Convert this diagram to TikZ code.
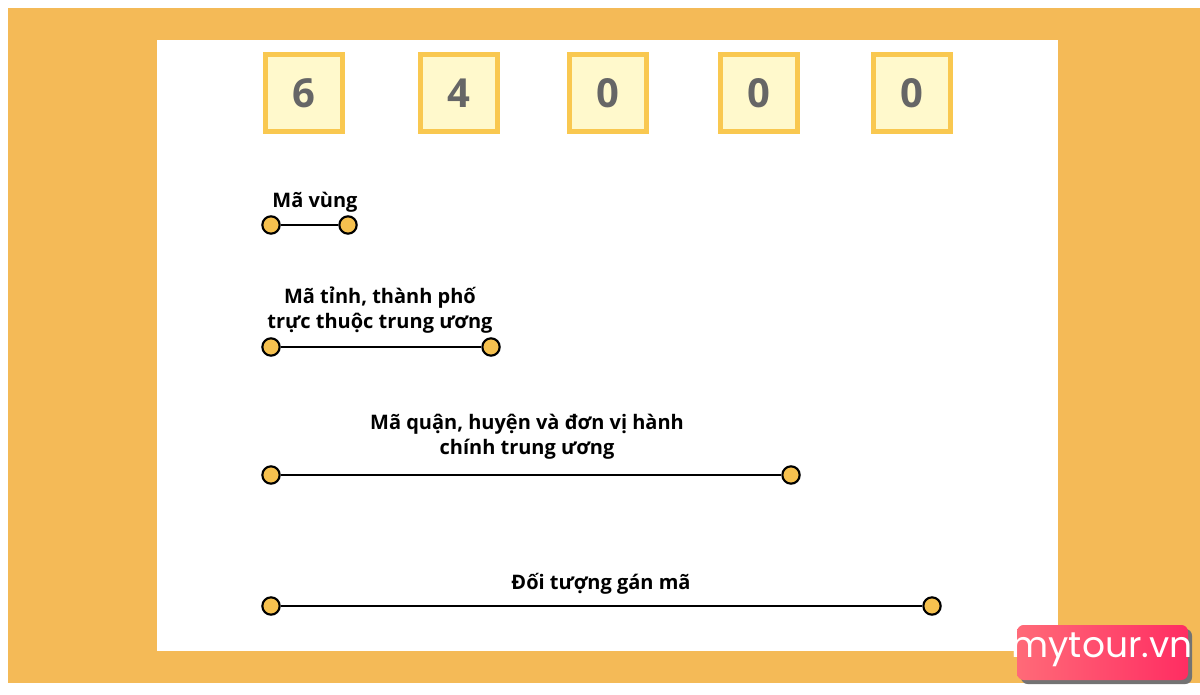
\documentclass[tikz,border=0pt]{standalone}
\usepackage{fontspec}
\setmainfont{Open Sans}
\newfontfamily\logofont{Poppins}
\usetikzlibrary{shadows}
\definecolor{bgor}{HTML}{F4BA57}
\definecolor{boxf}{HTML}{FFF9CC}
\definecolor{boxd}{HTML}{F9C850}
\definecolor{dotc}{HTML}{F6C14F}
\definecolor{pinkA}{HTML}{FF6A78}
\definecolor{pinkB}{HTML}{FF2D62}
\begin{document}
\begin{tikzpicture}[x=0.75pt,y=-0.75pt,
  digit/.style={draw=boxd,line width=4pt,fill=boxf,minimum size=58pt,inner sep=0pt,
    font=\fontsize{30}{30}\selectfont\bfseries,text=gray!80!black},
  dotn/.style={circle,draw=black,line width=1.6pt,fill=dotc,minimum size=13pt,inner sep=0pt},
  seg/.style={line width=2.2pt},
  lbl/.style={font=\fontsize{15}{19}\selectfont\bfseries,align=center}]
\useasboundingbox (0,0) rectangle (1200,695);
\fill[white] (0,0) rectangle (1200,695);
\fill[bgor] (8,8) rectangle (1200,683);
\fill[white] (157,40) rectangle (1058,651);
\node[digit] (d1) at (304,93) {6};
\node[digit] (d2) at (459,93) {4};
\node[digit] (d3) at (608,93) {0};
\node[digit] (d4) at (759,93) {0};
\node[digit] (d5) at (912,93) {0};
% line 1
\node[dotn] (a1) at (271,225) {};
\node[dotn] (b1) at (348,225) {};
\draw[seg] (a1) -- (b1);
\node[lbl] (t1) at (315,202) {Mã vùng};
% line 2
\node[dotn] (a2) at (271,347) {};
\node[dotn] (b2) at (491,347) {};
\draw[seg] (a2) -- (b2);
\node[lbl] (t2) at (380,310) {Mã tỉnh, thành phố\\trực thuộc trung ương};
% line 3
\node[dotn] (a3) at (271,475) {};
\node[dotn] (b3) at (791,475) {};
\draw[seg] (a3) -- (b3);
\node[lbl] (t3) at (527,437) {Mã quận, huyện và đơn vị hành\\chính trung ương};
% line 4
\node[dotn] (a4) at (271,606) {};
\node[dotn] (b4) at (932,606) {};
\draw[seg] (a4) -- (b4);
\node[lbl] (t4) at (601,584) {Đối tượng gán mã};
% logo
\fill[black!55,rounded corners=5pt] (1021,629) rectangle (1192,684);
\shade[left color=pinkA,right color=pinkB,rounded corners=5pt] (1017,625) rectangle (1188,680);
\node[text=white,font=\logofont\fontsize{27}{27}\selectfont] (logo) at (1102,650) {mytour.vn};
\end{tikzpicture}
\end{document}
